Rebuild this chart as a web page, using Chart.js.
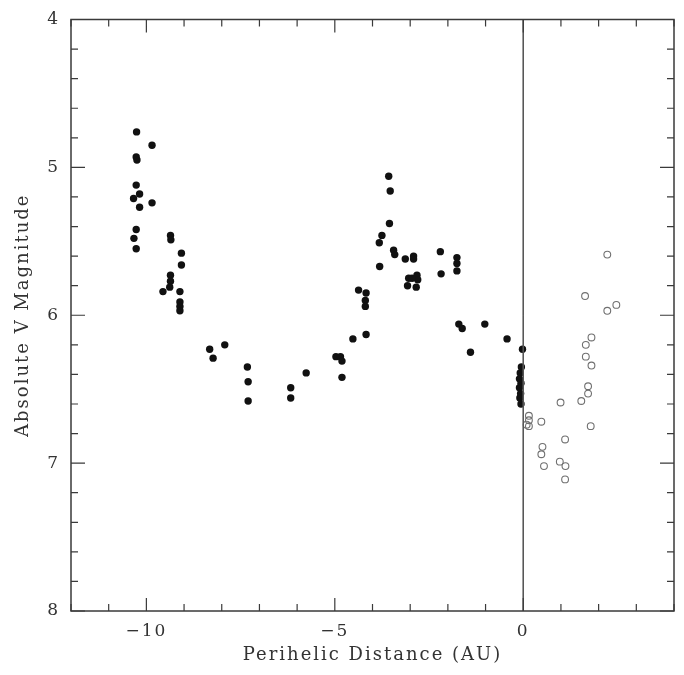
<!DOCTYPE html>
<html>
<head>
<meta charset="utf-8">
<script src="https://cdn.jsdelivr.net/npm/chart.js@4"></script>
<style>
  body { margin: 0; background: #ffffff; }
  canvas { display: block; }
</style>
</head>
<body>
<canvas id="chart" width="684" height="675"></canvas>
<script>
// filled dots: comets before perihelion (negative distance)
const filledX = [
  -10.26, -9.85, -10.27, -10.25, -10.27, -10.18, -10.34, -10.18, -9.85, -10.27,
  -10.33, -10.27, -9.36, -9.35, -9.07, -9.07, -9.36, -9.36, -9.38, -9.56,
  -9.11, -9.11, -9.11, -9.11,
  -8.32, -8.23, -7.92, -7.32, -7.30, -7.30, -6.17, -6.17, -5.76, -4.97,
  -4.85, -4.81, -4.81, -4.52, -4.17,
  -3.57, -3.53, -3.55, -3.75, -3.82, -3.44, -3.41, -3.81, -3.13, -2.91,
  -2.91, -2.20, -2.18, -1.76, -1.76, -1.76, -3.04, -2.82, -2.80, -3.07,
  -2.84, -2.95, -4.37, -4.17, -4.19, -4.19, -1.71, -1.62, -1.02, -0.43,
  -1.40, -0.02,
  -0.05, -0.08, -0.10, -0.06, -0.10, -0.07, -0.09, -0.06
];
const filledY = [
  4.76, 4.85, 4.93, 4.95, 5.12, 5.18, 5.21, 5.27, 5.24, 5.42,
  5.48, 5.55, 5.46, 5.49, 5.58, 5.66, 5.73, 5.77, 5.81, 5.84,
  5.84, 5.91, 5.94, 5.97,
  6.23, 6.29, 6.20, 6.35, 6.45, 6.58, 6.49, 6.56, 6.39, 6.28,
  6.28, 6.31, 6.42, 6.16, 6.13,
  5.06, 5.16, 5.38, 5.46, 5.51, 5.56, 5.59, 5.67, 5.62, 5.60,
  5.62, 5.57, 5.72, 5.61, 5.65, 5.70, 5.75, 5.73, 5.76, 5.80,
  5.81, 5.75, 5.83, 5.85, 5.90, 5.94, 6.06, 6.09, 6.06, 6.16,
  6.25, 6.23,
  6.35, 6.39, 6.43, 6.46, 6.49, 6.53, 6.56, 6.60
];

// open circles: after perihelion
const openX = [
  2.23, 1.64, 2.47, 2.23, 1.81, 1.66, 1.66, 1.81, 1.72, 1.72,
  1.54, 0.99, 1.79, 0.15, 0.15, 0.15, 0.09, 0.48, 1.11, 0.51,
  0.48, 0.55, 0.97, 1.12, 1.11
];
const openY = [
  5.59, 5.87, 5.93, 5.97, 6.15, 6.20, 6.28, 6.34, 6.48, 6.53,
  6.58, 6.59, 6.75, 6.68, 6.71, 6.75, 6.74, 6.72, 6.84, 6.89,
  6.94, 7.02, 6.99, 7.02, 7.11
];

// perihelion marker line
const zeroLineX = [0, 0];
const zeroLineY = [4, 8];

const xMin = -12, xMax = 4, xStep = 1;
const yMin = 4, yMax = 8, yStep = 0.2;

const toPoints = (xs, ys) => xs.map((x, i) => ({ x: x, y: ys[i] }));
const isWhole = v => Math.abs(v - Math.round(v)) < 1e-6;

const serif = "'DejaVu Serif', 'Liberation Serif', serif";

// wider letter spacing like the typeset original
const spacing = {
  id: 'spacing',
  beforeDraw(chart) { chart.ctx.letterSpacing = '2px'; }
};

// frame + inward ticks on all four sides
const frameTicks = {
  id: 'frameTicks',
  afterDraw(chart) {
    const ctx = chart.ctx;
    const a = chart.chartArea;
    const xs = chart.scales.x, ys = chart.scales.y;
    ctx.save();
    ctx.strokeStyle = '#3a3a3a';
    ctx.lineWidth = 1.5;
    ctx.strokeRect(a.left, a.top, a.right - a.left, a.bottom - a.top);
    ctx.lineWidth = 1.2;
    ctx.beginPath();
    xs.ticks.forEach(t => {
      const px = xs.getPixelForValue(t.value);
      const len = (Math.round(t.value) % 5 === 0) ? 13 : 7;
      ctx.moveTo(px, a.bottom); ctx.lineTo(px, a.bottom - len);
      ctx.moveTo(px, a.top); ctx.lineTo(px, a.top + len);
    });
    ys.ticks.forEach(t => {
      const py = ys.getPixelForValue(t.value);
      const len = isWhole(t.value) ? 14 : 7;
      ctx.moveTo(a.left, py); ctx.lineTo(a.left + len, py);
      ctx.moveTo(a.right, py); ctx.lineTo(a.right - len, py);
    });
    ctx.stroke();
    ctx.restore();
  }
};

new Chart(document.getElementById('chart'), {
  type: 'scatter',
  data: {
    datasets: [
      {
        type: 'line',
        data: toPoints(zeroLineX, zeroLineY),
        borderColor: '#555555',
        borderWidth: 1,
        pointRadius: 0,
        fill: false
      },
      {
        data: toPoints(filledX, filledY),
        pointRadius: 3.7,
        pointBackgroundColor: '#111111',
        pointBorderWidth: 0
      },
      {
        data: toPoints(openX, openY),
        pointRadius: 3.4,
        pointBackgroundColor: 'rgba(0,0,0,0)',
        pointBorderColor: '#707070',
        pointBorderWidth: 1.1
      }
    ]
  },
  options: {
    responsive: false,
    devicePixelRatio: 1,
    animation: false,
    layout: { padding: { left: 0, right: 10, top: 14, bottom: 0 } },
    plugins: {
      legend: { display: false },
      tooltip: { enabled: false }
    },
    scales: {
      x: {
        type: 'linear',
        min: xMin,
        max: xMax,
        grid: { display: false, drawTicks: false },
        border: { display: false },
        ticks: {
          stepSize: xStep,
          autoSkip: false,
          maxRotation: 0,
          padding: 10,
          color: '#333333',
          font: { family: serif, size: 17 },
          callback: v => (Math.round(v) % 5 === 0) ? String(Math.round(v)).replace('-', '\u2212') : ''
        },
        title: {
          display: true,
          text: 'Perihelic Distance (AU)',
          color: '#333333',
          font: { family: serif, size: 18 },
          padding: { top: 0, bottom: 9 }
        },
        afterFit(scale) { scale.height = 64; }
      },
      y: {
        type: 'linear',
        min: yMin,
        max: yMax,
        reverse: true,
        grid: { display: false, drawTicks: false },
        border: { display: false },
        ticks: {
          stepSize: yStep,
          autoSkip: false,
          padding: 11,
          color: '#333333',
          font: { family: serif, size: 17, lineHeight: 1 },
          callback: v => isWhole(v) ? String(Math.round(v)) : ''
        },
        title: {
          display: true,
          text: 'Absolute V Magnitude',
          color: '#333333',
          font: { family: serif, size: 18 },
          padding: { top: 13, bottom: 0 }
        },
        afterFit(scale) { scale.width = 71; }
      }
    }
  },
  plugins: [spacing, frameTicks]
});
</script>
</body>
</html>
